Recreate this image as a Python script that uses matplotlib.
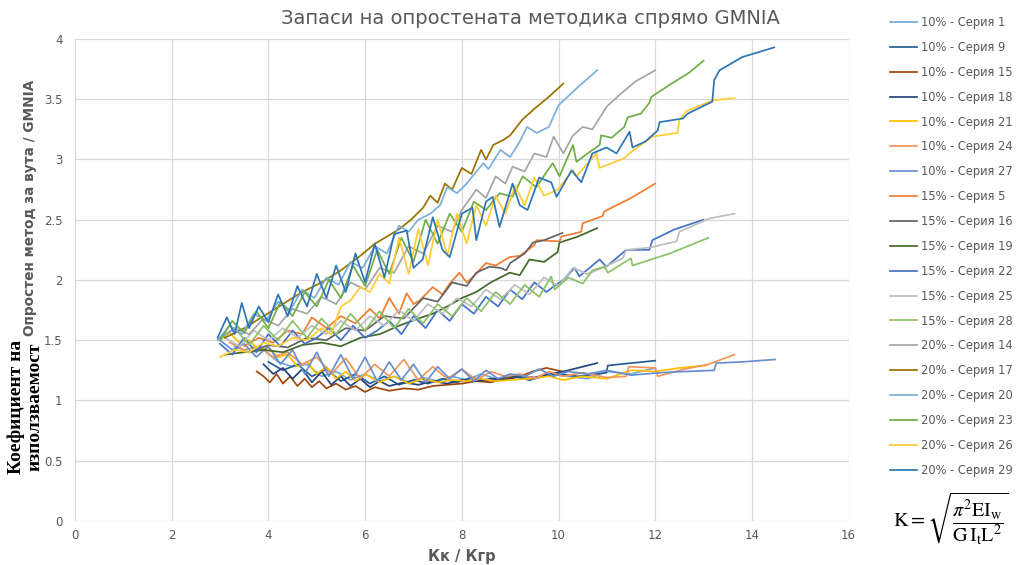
import matplotlib.pyplot as plt

# --- 10% series (lower band) ---
x_s1 = [3.3,3.6,3.9,4.2,4.5,4.8,5.1,5.4,5.7,6.0,6.3,6.6,6.9,7.2,7.5,7.8,8.1,8.4,8.7,9.0,9.4,9.8,10.2,10.6,11.0,11.5,12.0]
y_s1 = [1.45,1.4,1.42,1.32,1.28,1.3,1.2,1.24,1.17,1.22,1.16,1.2,1.15,1.19,1.16,1.2,1.17,1.22,1.18,1.2,1.17,1.22,1.2,1.18,1.24,1.22,1.27]

x_s9 = [4.0,4.3,4.6,4.9,5.2,5.5,5.8,6.1,6.4,6.7,7.0,7.3,7.6,7.9,8.2,8.5,8.8,9.1,9.4,9.7,10.0,10.4,10.8,10.99,11.02,11.5,12.0]
y_s9 = [1.32,1.25,1.3,1.2,1.26,1.16,1.22,1.14,1.2,1.13,1.17,1.14,1.18,1.15,1.19,1.16,1.18,1.2,1.17,1.2,1.22,1.2,1.22,1.23,1.29,1.31,1.33]

x_s15 = [3.76,3.9,4.03,4.17,4.3,4.45,4.6,4.75,4.9,5.05,5.2,5.4,5.6,5.8,6.0,6.2,6.5,6.8,7.1,7.4,7.7,8.0,8.3,8.6,8.9,9.2,9.47,9.75,10.08]
y_s15 = [1.24,1.2,1.15,1.22,1.14,1.2,1.12,1.18,1.11,1.16,1.1,1.14,1.09,1.12,1.07,1.11,1.08,1.1,1.09,1.12,1.13,1.14,1.16,1.15,1.18,1.2,1.24,1.27,1.24]

x_s18 = [3.9,4.1,4.3,4.5,4.7,4.9,5.1,5.3,5.5,5.7,5.9,6.1,6.3,6.5,6.8,7.1,7.4,7.7,8.0,8.3,8.6,8.9,9.2,9.5,9.8,10.1,10.4,10.8]
y_s18 = [1.3,1.22,1.27,1.18,1.26,1.15,1.24,1.13,1.2,1.12,1.18,1.11,1.16,1.12,1.15,1.13,1.16,1.14,1.17,1.16,1.18,1.17,1.2,1.19,1.22,1.24,1.27,1.31]

x_s21 = [3.2,3.4,3.6,3.8,4.0,4.2,4.4,4.6,4.8,5.0,5.2,5.4,5.6,5.8,6.0,6.3,6.6,6.9,7.2,7.5,7.8,8.1,8.4,8.7,9.0,9.4,9.8,10.1,10.5,11.0,11.5,12.0,12.5,13.05]
y_s21 = [1.56,1.48,1.5,1.42,1.44,1.36,1.38,1.28,1.32,1.22,1.28,1.18,1.24,1.16,1.22,1.15,1.2,1.14,1.18,1.15,1.17,1.16,1.18,1.16,1.17,1.18,1.2,1.17,1.2,1.18,1.25,1.24,1.27,1.29]

x_s24 = [3.2,3.5,3.8,4.1,4.4,4.7,5.0,5.3,5.6,5.9,6.2,6.5,6.8,7.1,7.4,7.7,8.0,8.3,8.6,8.9,9.2,9.5,9.8,10.1,10.5,11.0,11.4,11.45,12.0,12.05,12.6,13.1,13.64]
y_s24 = [1.48,1.42,1.45,1.36,1.4,1.3,1.36,1.22,1.35,1.18,1.3,1.2,1.34,1.17,1.28,1.18,1.26,1.17,1.24,1.2,1.22,1.18,1.24,1.2,1.23,1.19,1.2,1.28,1.27,1.2,1.26,1.3,1.38]

x_s27 = [3.0,3.25,3.5,3.75,4.0,4.25,4.5,4.75,5.0,5.25,5.5,5.75,6.0,6.25,6.5,6.75,7.0,7.25,7.5,7.75,8.0,8.25,8.5,8.75,9.0,9.3,9.6,9.9,10.2,10.6,11.0,11.5,12.09,12.6,13.22,13.26,13.8,14.48]
y_s27 = [1.5,1.42,1.47,1.36,1.45,1.3,1.42,1.22,1.4,1.2,1.38,1.18,1.36,1.16,1.32,1.17,1.3,1.15,1.28,1.18,1.26,1.16,1.25,1.18,1.22,1.2,1.26,1.2,1.24,1.22,1.25,1.21,1.23,1.24,1.25,1.31,1.32,1.34]

# --- 15% series (middle band) ---
x_s5 = [3.5,3.8,4.1,4.4,4.7,4.9,5.2,5.5,5.8,6.1,6.3,6.5,6.7,6.86,7.0,7.13,7.3,7.4,7.6,7.75,7.95,8.1,8.22,8.5,8.7,8.99,9.2,9.5,9.54,10.02,10.06,10.47,10.5,10.91,10.95,11.5,12.0]
y_s5 = [1.45,1.52,1.48,1.58,1.55,1.69,1.6,1.7,1.64,1.76,1.68,1.85,1.72,1.89,1.8,1.83,1.9,1.94,1.88,1.97,2.06,1.98,2.02,2.14,2.12,2.19,2.2,2.29,2.33,2.32,2.36,2.4,2.47,2.53,2.57,2.68,2.8]

x_s16 = [3.6,4.0,4.4,4.8,5.2,5.6,6.0,6.4,6.8,7.2,7.5,7.8,8.1,8.3,8.57,8.8,8.92,9.0,9.3,9.47,9.7,10.08]
y_s16 = [1.4,1.46,1.44,1.52,1.5,1.6,1.58,1.7,1.68,1.85,1.82,1.98,1.95,2.06,2.11,2.1,2.08,2.14,2.22,2.31,2.33,2.39]

x_s19 = [3.1,3.5,3.9,4.3,4.7,5.1,5.5,5.9,6.3,6.7,7.1,7.4,7.7,8.0,8.3,8.6,8.99,9.2,9.4,9.7,9.98,10.02,10.4,10.8]
y_s19 = [1.38,1.4,1.42,1.4,1.46,1.48,1.45,1.52,1.55,1.62,1.68,1.72,1.78,1.85,1.9,1.98,2.06,2.04,2.17,2.15,2.23,2.31,2.36,2.43]

x_s22 = [3.0,3.25,3.5,3.75,4.0,4.25,4.5,4.75,5.0,5.25,5.5,5.75,6.0,6.25,6.5,6.75,7.0,7.25,7.5,7.75,8.0,8.25,8.5,8.75,9.0,9.25,9.5,9.75,9.88,10.1,10.33,10.43,10.85,10.99,11.4,11.88,11.94,12.4,13.0]
y_s22 = [1.47,1.38,1.52,1.4,1.55,1.45,1.58,1.47,1.52,1.6,1.5,1.62,1.52,1.58,1.66,1.55,1.7,1.6,1.75,1.66,1.8,1.72,1.86,1.78,1.92,1.84,1.98,1.9,1.94,2.0,2.1,2.03,2.17,2.11,2.25,2.25,2.33,2.42,2.5]

x_s25 = [3.1,3.4,3.7,4.0,4.3,4.6,4.9,5.2,5.5,5.8,6.1,6.4,6.7,7.0,7.3,7.6,7.9,8.2,8.5,8.8,9.1,9.4,9.7,10.0,10.3,10.6,10.91,11.33,11.4,11.9,12.44,12.5,13.12,13.64]
y_s25 = [1.52,1.45,1.58,1.5,1.6,1.52,1.62,1.55,1.66,1.58,1.7,1.62,1.75,1.66,1.8,1.72,1.85,1.78,1.92,1.84,1.96,1.88,2.02,1.95,2.1,2.05,2.1,2.18,2.25,2.27,2.32,2.4,2.51,2.55]

x_s28 = [3.0,3.3,3.6,3.9,4.2,4.5,4.8,5.1,5.4,5.7,6.0,6.3,6.6,6.9,7.2,7.5,7.8,8.1,8.4,8.7,9.0,9.3,9.6,9.85,9.92,10.2,10.5,10.7,10.95,11.02,11.5,11.53,12.3,13.1]
y_s28 = [1.5,1.6,1.46,1.62,1.5,1.66,1.52,1.68,1.55,1.72,1.58,1.74,1.6,1.76,1.64,1.8,1.7,1.85,1.74,1.9,1.8,1.96,1.86,2.03,1.92,2.02,1.97,2.08,2.11,2.06,2.18,2.12,2.22,2.35]

# --- 20% series (upper band) ---
x_s14 = [3.0,3.3,3.6,3.9,4.2,4.5,4.8,5.1,5.4,5.7,6.0,6.3,6.6,6.9,7.2,7.5,7.8,8.0,8.3,8.5,8.7,8.9,9.05,9.3,9.5,9.75,9.9,10.1,10.3,10.5,10.7,11.0,11.3,11.6,12.0]
y_s14 = [1.52,1.6,1.55,1.68,1.62,1.76,1.72,1.86,1.8,1.98,1.92,2.1,2.06,2.28,2.22,2.45,2.4,2.58,2.75,2.68,2.86,2.8,2.94,2.9,3.05,3.02,3.19,3.05,3.2,3.27,3.25,3.44,3.55,3.65,3.74]

x_s17 = [3.1,3.5,3.9,4.3,4.7,5.1,5.5,5.9,6.2,6.45,6.7,6.95,7.2,7.35,7.5,7.65,7.8,8.0,8.2,8.4,8.5,8.65,8.85,9.0,9.25,9.5,9.8,10.1]
y_s17 = [1.52,1.6,1.7,1.8,1.9,1.98,2.08,2.2,2.3,2.36,2.42,2.5,2.6,2.7,2.64,2.8,2.75,2.93,2.88,3.08,3.0,3.12,3.16,3.2,3.33,3.42,3.52,3.63]

x_s20 = [2.95,3.2,3.45,3.7,3.95,4.2,4.45,4.7,4.95,5.2,5.45,5.7,5.95,6.2,6.45,6.7,6.9,7.1,7.35,7.55,7.7,7.9,8.1,8.3,8.45,8.55,8.8,9.0,9.2,9.35,9.55,9.8,10.0,10.4,10.8]
y_s20 = [1.5,1.62,1.55,1.72,1.66,1.82,1.75,1.92,1.85,2.02,1.96,2.15,2.1,2.28,2.22,2.45,2.4,2.5,2.55,2.62,2.77,2.72,2.8,2.9,2.97,2.92,3.08,3.02,3.15,3.27,3.22,3.27,3.45,3.6,3.74]

x_s23 = [3.0,3.25,3.5,3.75,4.0,4.25,4.5,4.75,5.0,5.25,5.5,5.75,6.0,6.25,6.5,6.75,7.0,7.25,7.5,7.75,8.0,8.25,8.5,8.78,9.05,9.26,9.54,9.88,10.02,10.3,10.37,10.6,10.85,10.88,11.1,11.36,11.43,11.7,11.88,11.92,12.3,12.7,13.0]
y_s23 = [1.5,1.66,1.56,1.74,1.6,1.82,1.7,1.9,1.78,2.0,1.85,2.12,1.95,2.25,2.05,2.35,2.15,2.5,2.3,2.55,2.4,2.65,2.58,2.72,2.69,2.86,2.77,2.97,2.86,3.12,2.98,3.05,3.12,3.2,3.18,3.27,3.35,3.38,3.47,3.52,3.62,3.72,3.82]

x_s26 = [3.0,3.3,3.6,3.9,4.2,4.5,4.8,5.1,5.3,5.5,5.7,5.9,6.1,6.3,6.5,6.7,6.9,7.1,7.3,7.5,7.7,7.9,8.1,8.3,8.5,8.7,8.9,9.1,9.3,9.5,9.7,9.98,10.3,10.37,10.78,10.85,11.36,11.43,11.94,12.46,12.5,12.64,13.18,13.64]
y_s26 = [1.36,1.42,1.4,1.48,1.45,1.52,1.5,1.6,1.55,1.78,1.83,1.94,1.9,2.05,1.97,2.35,2.05,2.42,2.12,2.5,2.2,2.55,2.3,2.62,2.45,2.7,2.55,2.78,2.62,2.85,2.7,2.75,2.91,2.86,3.05,2.93,3.01,3.04,3.19,3.22,3.33,3.4,3.49,3.51]

x_s29 = [2.95,3.14,3.3,3.45,3.6,3.8,4.0,4.2,4.4,4.6,4.8,5.0,5.2,5.4,5.6,5.8,6.0,6.2,6.4,6.6,6.86,7.0,7.19,7.4,7.6,7.75,8.0,8.22,8.3,8.5,8.64,8.78,9.05,9.2,9.36,9.6,9.85,9.96,10.27,10.47,10.7,10.99,11.2,11.47,11.53,11.8,12.05,12.09,12.57,12.67,13.18,13.22,13.33,13.8,14.46]
y_s29 = [1.52,1.69,1.55,1.81,1.6,1.78,1.65,1.88,1.7,1.95,1.78,2.05,1.85,2.12,1.9,2.22,1.98,2.3,2.02,2.38,2.41,2.1,2.17,2.52,2.25,2.19,2.55,2.6,2.33,2.65,2.69,2.44,2.8,2.62,2.58,2.85,2.81,2.69,2.91,2.81,3.05,3.1,3.05,3.23,3.1,3.15,3.24,3.31,3.34,3.38,3.48,3.66,3.74,3.85,3.93]

series = [
    ("10% - Серия 1", x_s1, y_s1, "#6FA8DC"),
    ("10% - Серия 9", x_s9, y_s9, "#255E91"),
    ("10% - Серия 15", x_s15, y_s15, "#9E480E"),
    ("10% - Серия 18", x_s18, y_s18, "#264478"),
    ("10% - Серия 21", x_s21, y_s21, "#FFC000"),
    ("10% - Серия 24", x_s24, y_s24, "#F1975A"),
    ("10% - Серия 27", x_s27, y_s27, "#698ED0"),
    ("15% - Серия 5", x_s5, y_s5, "#ED7D31"),
    ("15% - Серия 16", x_s16, y_s16, "#636363"),
    ("15% - Серия 19", x_s19, y_s19, "#43682B"),
    ("15% - Серия 22", x_s22, y_s22, "#4472C4"),
    ("15% - Серия 25", x_s25, y_s25, "#BFBFBF"),
    ("15% - Серия 28", x_s28, y_s28, "#8CC168"),
    ("20% - Серия 14", x_s14, y_s14, "#A5A5A5"),
    ("20% - Серия 17", x_s17, y_s17, "#997300"),
    ("20% - Серия 20", x_s20, y_s20, "#7CAFDD"),
    ("20% - Серия 23", x_s23, y_s23, "#70AD47"),
    ("20% - Серия 26", x_s26, y_s26, "#FFCD33"),
    ("20% - Серия 29", x_s29, y_s29, "#2E75B6"),
]

gray = "#595959"
plt.rcParams["mathtext.fontset"] = "stix"

fig = plt.figure(figsize=(10.2, 5.65), dpi=100)
ax = fig.add_axes([0.0735, 0.078, 0.7585, 0.853])

for label, xs, ys, col in series:
    ax.plot(xs, ys, color=col, lw=1.25, label=label, solid_joinstyle="round")

ax.set_xlim(0, 16)
ax.set_ylim(0, 4)
ax.set_xticks(range(0, 17, 2))
ax.set_yticks([0, 0.5, 1, 1.5, 2, 2.5, 3, 3.5, 4])
ax.set_yticklabels(["0", "0.5", "1", "1.5", "2", "2.5", "3", "3.5", "4"])
ax.grid(True, color="#D9D9D9", lw=0.9)
ax.set_axisbelow(True)
for s in ax.spines.values():
    s.set_visible(False)
ax.tick_params(length=0, colors=gray, labelsize=8.5)
ax.tick_params(axis="x", pad=6)
ax.tick_params(axis="y", pad=9)

fig.text(0.52, 0.968, "Запаси на опростената методика спрямо GMNIA",
         ha="center", va="center", fontsize=14, color=gray)

fig.text(0.453, 0.015, "Кк / Кгр", ha="center", va="center",
         fontsize=10.5, fontweight="bold", color=gray)
fig.text(0.029, 0.632, "Опростен метод за вута / GMNIA", rotation=90,
         ha="center", va="center", fontsize=9.8, fontweight="bold", color=gray)
fig.text(0.025, 0.28, "Коефициент на\nизползваемост", rotation=90,
         ha="center", va="center", fontsize=14, fontweight="bold",
         family="Liberation Serif", color="black", linespacing=1.05)

fig.text(0.932, 0.082, r"$\mathrm{K}=\sqrt{\dfrac{\pi^2\mathrm{EI_w}}{\mathrm{G\,I_t L^2}}}$",
         ha="center", va="center", fontsize=14.5, color="black")

fig.legend(loc="upper left", bbox_to_anchor=(0.862, 0.99), frameon=False,
           fontsize=8.3, labelcolor=gray, handlelength=2.4, handletextpad=0.3,
           labelspacing=1.03)

fig.savefig("out.png", dpi=100)
